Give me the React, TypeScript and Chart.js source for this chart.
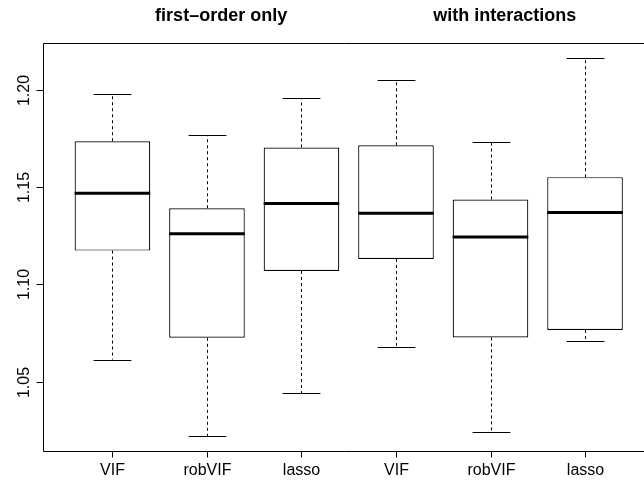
import React, { useEffect, useRef } from "react";
import { Chart, registerables } from "chart.js";

Chart.register(...registerables);

// Six boxplots: three methods, fitted with first-order terms only and with interactions
const groupLabels = ["VIF", "robVIF", "lasso", "VIF", "robVIF", "lasso"];
const groupPositions = [1, 2, 3, 4, 5, 6];
const lowerWhisker = [1.0613, 1.022, 1.044, 1.0677, 1.0239, 1.0706];
const lowerQuartile = [1.1174, 1.0725, 1.1069, 1.1131, 1.0727, 1.0765];
const medians = [1.1469, 1.1261, 1.1416, 1.1366, 1.1244, 1.137];
const upperQuartile = [1.1737, 1.1392, 1.1705, 1.1716, 1.1437, 1.1552];
const upperWhisker = [1.1981, 1.1768, 1.1959, 1.205, 1.1734, 1.2165];
const yTickValues = [1.05, 1.1, 1.15, 1.2];
const yTickLabels = ["1.05", "1.10", "1.15", "1.20"];
const panelTitles = ["first\u2013order only", "with interactions"];
const panelTitleAt = [2.15, 5.15];

const FONT = "'Liberation Sans', Arial, Helvetica, sans-serif";

// y range: data extremes padded by 4% on each side
const dataMin = Math.min(...lowerWhisker);
const dataMax = Math.max(...upperWhisker);
const pad = (dataMax - dataMin) * 0.04;

const boxplotPlugin = {
  id: "boxplotParts",
  beforeDatasetsDraw(chart: any) {
    const { ctx, scales } = chart;
    const x = scales.x;
    const y = scales.y;
    ctx.save();
    ctx.strokeStyle = "#000";
    ctx.lineWidth = 1;
    groupPositions.forEach((p, i) => {
      const cx = Math.round(x.getPixelForValue(p)) + 0.5;
      const half = x.getPixelForValue(p + 0.2) - x.getPixelForValue(p);
      // dashed whiskers
      ctx.setLineDash([3, 3]);
      ctx.beginPath();
      ctx.moveTo(cx, y.getPixelForValue(upperQuartile[i]));
      ctx.lineTo(cx, y.getPixelForValue(upperWhisker[i]));
      ctx.moveTo(cx, y.getPixelForValue(lowerQuartile[i]));
      ctx.lineTo(cx, y.getPixelForValue(lowerWhisker[i]));
      ctx.stroke();
      // staples
      ctx.setLineDash([]);
      ctx.beginPath();
      const yu = Math.round(y.getPixelForValue(upperWhisker[i])) + 0.5;
      const yl = Math.round(y.getPixelForValue(lowerWhisker[i])) + 0.5;
      ctx.moveTo(cx - half, yu);
      ctx.lineTo(cx + half, yu);
      ctx.moveTo(cx - half, yl);
      ctx.lineTo(cx + half, yl);
      ctx.stroke();
    });
    ctx.restore();
  },
  afterDraw(chart: any) {
    const { ctx, chartArea, scales } = chart;
    const x = scales.x;
    const y = scales.y;
    const left = Math.round(chartArea.left) + 0.5;
    const top = Math.round(chartArea.top) + 0.5;
    const bottom = Math.round(chartArea.bottom) + 0.5;
    ctx.save();
    ctx.strokeStyle = "#000";
    ctx.fillStyle = "#000";
    ctx.lineWidth = 1;
    // plot frame (right side runs off the canvas)
    ctx.beginPath();
    ctx.moveTo(chartArea.right + 2, top);
    ctx.lineTo(left, top);
    ctx.lineTo(left, bottom);
    ctx.lineTo(chartArea.right + 2, bottom);
    ctx.stroke();

    // y axis ticks and rotated labels
    ctx.font = `16px ${FONT}`;
    ctx.textAlign = "center";
    ctx.textBaseline = "alphabetic";
    yTickValues.forEach((v, i) => {
      const py = Math.round(y.getPixelForValue(v)) + 0.5;
      ctx.beginPath();
      ctx.moveTo(left, py);
      ctx.lineTo(left - 7, py);
      ctx.stroke();
      ctx.save();
      ctx.translate(29, py);
      ctx.rotate(-Math.PI / 2);
      ctx.fillText(yTickLabels[i], 0, 0);
      ctx.restore();
    });

    // x axis ticks and labels
    groupPositions.forEach((p, i) => {
      const px = Math.round(x.getPixelForValue(p)) + 0.5;
      ctx.beginPath();
      ctx.moveTo(px, bottom);
      ctx.lineTo(px, bottom + 6);
      ctx.stroke();
      ctx.fillText(groupLabels[i], px, 475);
    });

    // panel titles
    ctx.font = `bold 18px ${FONT}`;
    panelTitles.forEach((t, i) => {
      ctx.fillText(t, x.getPixelForValue(panelTitleAt[i]), 21);
    });
    ctx.restore();
  },
};

export default function App() {
  const canvasRef = useRef<HTMLCanvasElement | null>(null);

  useEffect(() => {
    if (!canvasRef.current) return;
    const boxes = groupPositions.map((p, i) => ({ x: p, y: [lowerQuartile[i], upperQuartile[i]] }));
    const medianPoints = groupPositions.map((p, i) => ({ x: p, y: medians[i] }));
    const chart = new Chart(canvasRef.current, {
      type: "bar",
      data: {
        datasets: [
          {
            type: "bar",
            data: boxes as any,
            backgroundColor: "#ffffff",
            borderColor: "#000000",
            borderWidth: 1.2,
            borderSkipped: false,
            categoryPercentage: 0.8,
            barPercentage: 1,
            order: 2,
          },
          {
            type: "scatter",
            data: medianPoints as any,
            pointStyle: "line",
            pointRadius: 37.8,
            pointBorderWidth: 3,
            borderColor: "#000000",
            backgroundColor: "#000000",
            clip: false,
            order: 1,
          } as any,
        ],
      },
      options: {
        responsive: false,
        animation: false,
        devicePixelRatio: 1,
        layout: { autoPadding: false, padding: { left: 42.5, top: 43, right: 0, bottom: 29 } },
        plugins: {
          legend: { display: false },
          tooltip: { enabled: false },
          title: { display: false },
        },
        events: [],
        scales: {
          x: {
            type: "linear",
            display: false,
            min: 0.26,
            max: 6.624,
            offset: false,
            ticks: { stepSize: 1, includeBounds: false },
          },
          y: { type: "linear", display: false, min: dataMin - pad, max: dataMax + pad },
        },
      } as any,
      plugins: [boxplotPlugin],
    });
    return () => chart.destroy();
  }, []);

  return (
    <div style={{ position: "fixed", left: 0, top: 0, width: 644, height: 480, background: "#fff" }}>
      <canvas ref={canvasRef} width={644} height={480} />
    </div>
  );
}
